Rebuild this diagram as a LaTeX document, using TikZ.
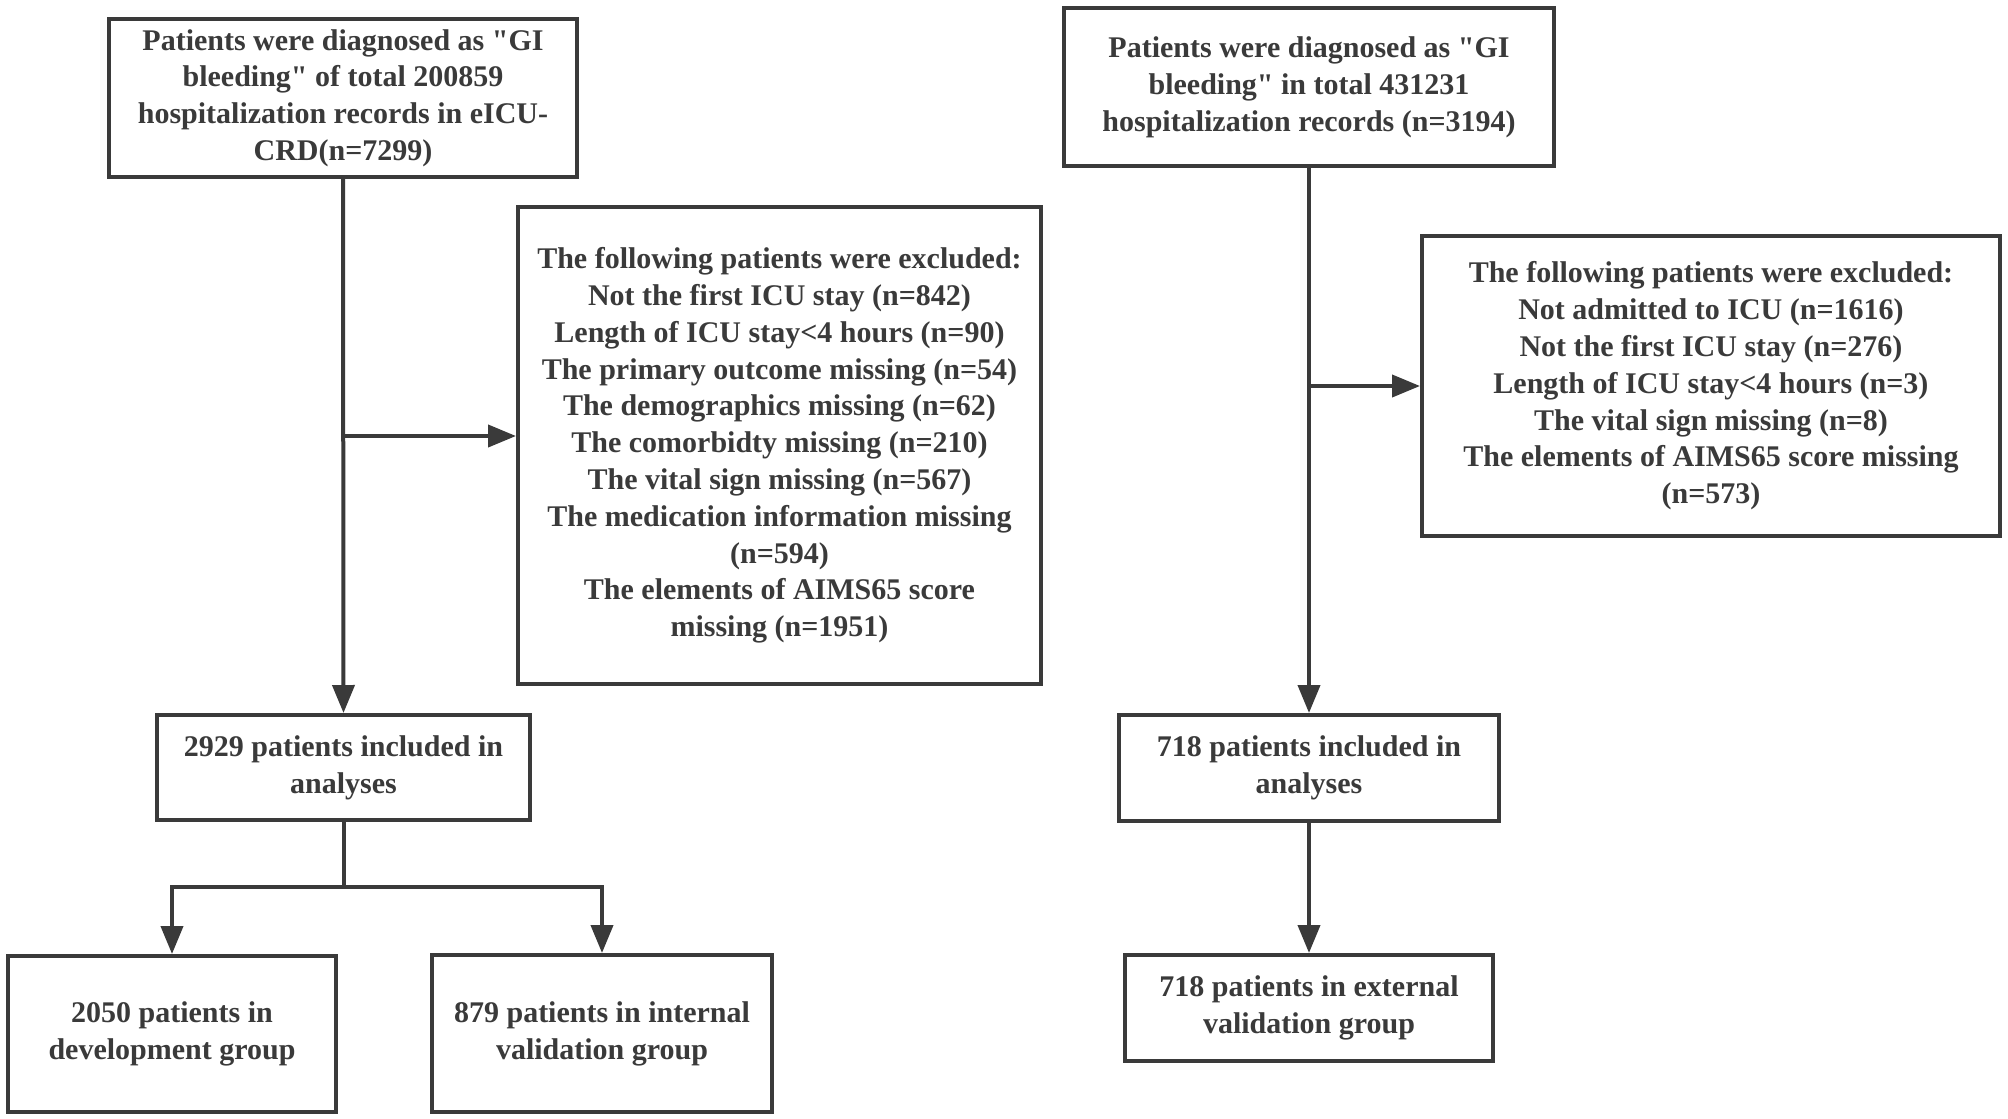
\documentclass[tikz,border=0pt]{standalone}
\usepackage{fontspec}
\newfontfamily\boxfont{Liberation Serif}[BoldFont={Liberation Serif Bold}]
\usetikzlibrary{arrows.meta}
\definecolor{ink}{HTML}{3A3A3A}
\tikzset{
  box/.style={draw=ink, line width=2pt, text=ink, align=center, inner sep=0pt,
    font=\boxfont\fontsize{15}{18.4}\selectfont\bfseries},
  conn/.style={draw=ink, line width=2pt},
  arr/.style={conn, -{Triangle[length=14pt,width=11pt]}}
}
\begin{document}
\begin{tikzpicture}[x=0.5pt,y=-0.5pt]
\useasboundingbox[fill=white] (0,0) rectangle (2008,1119);
\node[box, minimum width=234pt, minimum height=79pt] (A) at (343,98)
  {Patients were diagnosed as "GI\\bleeding" of total 200859\\hospitalization records in eICU-\\CRD(n=7299)};
\node[box, minimum width=261.5pt, minimum height=238.5pt] (B) at (779.5,445.5)
  {The following patients were excluded:\\Not the first ICU stay (n=842)\\Length of ICU stay<4 hours (n=90)\\The primary outcome missing (n=54)\\The demographics missing (n=62)\\The comorbidty missing (n=210)\\The vital sign missing (n=567)\\The medication information missing\\(n=594)\\The elements of AIMS65 score\\missing (n=1951)};
\node[box, minimum width=186.5pt, minimum height=52.5pt] (C) at (343.5,767.5)
  {2929 patients included in\\analyses};
\node[box, minimum width=164pt, minimum height=78pt] (D) at (172,1034)
  {2050 patients in\\development group};
\node[box, minimum width=170pt, minimum height=78.5pt] (E) at (602,1033.5)
  {879 patients in internal\\validation group};
\node[box, minimum width=245pt, minimum height=79pt] (F) at (1309,87)
  {Patients were diagnosed as "GI\\bleeding" in total 431231\\hospitalization records (n=3194)};
\node[box, minimum width=289pt, minimum height=150pt] (G) at (1711,386)
  {The following patients were excluded:\\Not admitted to ICU (n=1616)\\Not the first ICU stay (n=276)\\Length of ICU stay<4 hours (n=3)\\The vital sign missing (n=8)\\The elements of AIMS65 score missing\\(n=573)};
\node[box, minimum width=190pt, minimum height=53pt] (H) at (1309,768)
  {718 patients included in\\analyses};
\node[box, minimum width=184pt, minimum height=53pt] (I) at (1309,1008)
  {718 patients in external\\validation group};
% left connectors
\coordinate (lb) at (343,436);
\draw[arr] (A.south) -- (C.north);
\draw[arr] (lb) -- (lb -| B.west);
\coordinate (sp) at (343.5,887);
\draw[conn] (C.south) -- (sp);
\draw[arr] (sp) -| (D.north);
\draw[arr] (sp) -| (E.north);
% right connectors
\coordinate (rb) at (1309,386);
\draw[arr] (F.south) -- (H.north);
\draw[arr] (rb) -- (rb -| G.west);
\draw[arr] (H.south) -- (I.north);
\end{tikzpicture}
\end{document}
